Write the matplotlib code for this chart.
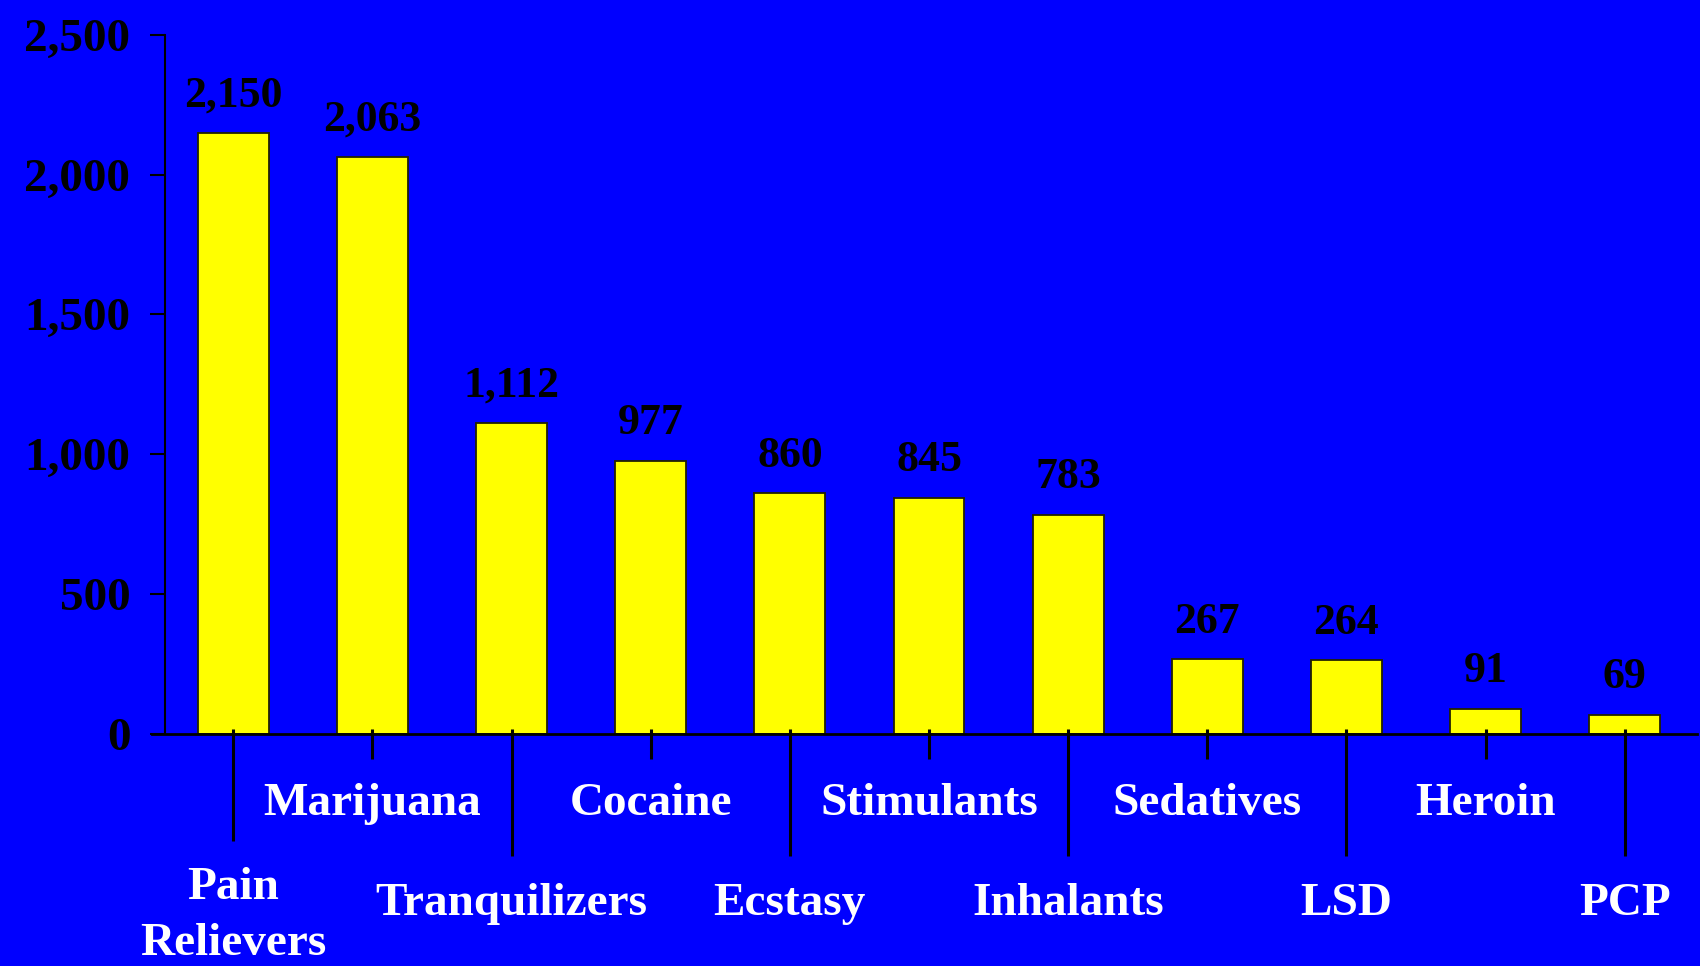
import matplotlib
matplotlib.use("Agg")
import matplotlib.pyplot as plt

categories = ["Pain\nRelievers", "Marijuana", "Tranquilizers", "Cocaine", "Ecstasy",
              "Stimulants", "Inhalants", "Sedatives", "LSD", "Heroin", "PCP"]
values = [2150, 2063, 1112, 977, 860, 845, 783, 267, 264, 91, 69]
yticks = [0, 500, 1000, 1500, 2000, 2500]

BLUE = "#0000FF"
YELLOW = "#FFFF00"
FONT = "Liberation Serif"

fig = plt.figure(figsize=(17, 9.66), dpi=100, facecolor=BLUE)
ax = fig.add_axes([0.0971, 0.2402, 0.9012, 0.7239], facecolor=BLUE)

x = list(range(len(categories)))
bars = ax.bar(x, values, width=0.51, color=YELLOW, edgecolor="#222200", linewidth=1.3, zorder=2)

for xi, v in zip(x, values):
    ax.annotate(f"{v:,}", (xi, v), xytext=(0, 27), textcoords="offset points",
                ha="center", va="center", fontsize=31.5, fontweight="bold",
                family=FONT, color="black")

ax.set_xlim(-0.49, 10.52)
ax.set_ylim(0, 2500)
ax.set_yticks(yticks)
ax.set_yticklabels([f"{t:,}" for t in yticks])
ax.tick_params(axis="y", direction="out", length=11, width=1.5, color="black",
               pad=14, labelsize=34)
for lab in ax.get_yticklabels():
    lab.set_fontfamily(FONT)
    lab.set_fontweight("bold")
    lab.set_color("black")

ax.set_xticks([])
for s in ["top", "right", "bottom"]:
    ax.spines[s].set_visible(False)
ax.spines["left"].set_linewidth(1.5)
ax.spines["left"].set_color("black")
ax.axhline(0, xmin=-0.0085, xmax=1, color="black", linewidth=2.0, clip_on=False, zorder=3)

trans = ax.get_xaxis_transform()
for i, (xi, lab) in enumerate(zip(x, categories)):
    if i == 0:
        y_end, y_lab = -0.153, -0.26
    elif i % 2 == 1:
        y_end, y_lab = -0.036, -0.1
    else:
        y_end, y_lab = -0.1745, -0.243
    ax.plot([xi, xi], [0.007, y_end], transform=trans, color="black",
            linewidth=2.2, clip_on=False, zorder=4, solid_capstyle="butt")
    ax.text(xi, y_lab, lab, transform=trans, ha="center", va="center",
            fontsize=34, fontweight="bold", family=FONT, color="white",
            linespacing=1.45)

fig.savefig("out.png", dpi=100, facecolor=BLUE)
